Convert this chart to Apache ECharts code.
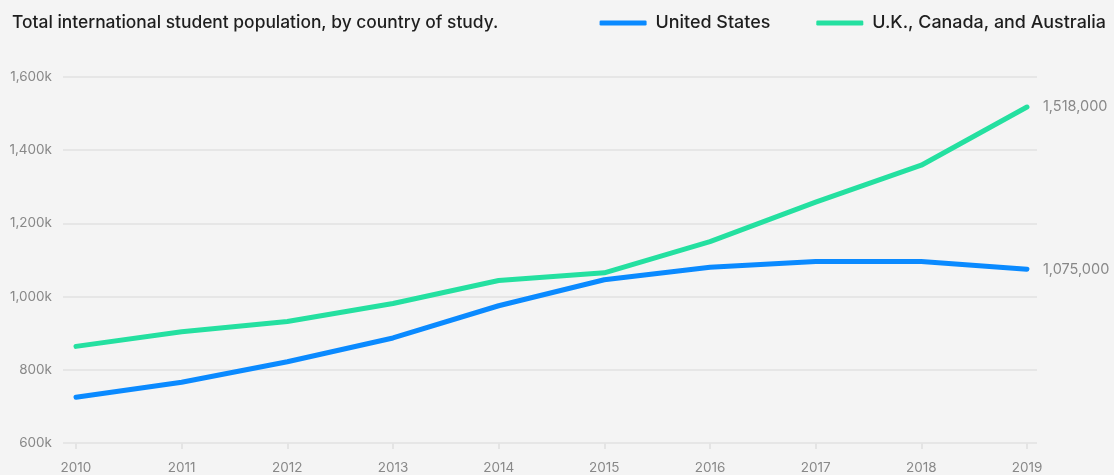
<!DOCTYPE html>
<html><head><meta charset="utf-8">
<script src="https://cdn.jsdelivr.net/npm/echarts@6/dist/echarts.min.js"></script>
<style>html,body{margin:0;padding:0;background:#f4f4f4;}#c{width:1114px;height:475px;}</style>
</head><body><div id="c"></div>
<script>
const years = [2010, 2011, 2012, 2013, 2014, 2015, 2016, 2017, 2018, 2019];
const unitedStates = [725000, 766000, 822000, 887000, 975000, 1046000, 1080000, 1096000, 1096000, 1075000];
const ukCanadaAustralia = [864000, 904000, 932000, 981000, 1044000, 1065000, 1150000, 1258000, 1359000, 1518000];
const yTicks = [600000, 800000, 1000000, 1200000, 1400000, 1600000];
const seriesNames = ['United States', 'U.K., Canada, and Australia'];
const colors = ['#0a8aff', '#24e0a0'];

const chart = echarts.init(document.getElementById('c'));
const fmtK = v => (v / 1000).toLocaleString('en-US') + 'k';
const pair = arr => arr.map((v, i) => [years[i], v]);

chart.setOption({
  backgroundColor: '#f4f4f4',
  animation: false,
  textStyle: { fontFamily: 'Inter, Roboto, sans-serif' },
  title: {
    text: 'Total international student population, by country of study.',
    left: 7, top: 9,
    textStyle: { fontSize: 17.4, fontWeight: 500, color: '#1e1e1e', fontFamily: 'Inter, sans-serif' }
  },
  legend: {
    right: 3, top: 9,
    itemWidth: 47, itemHeight: 5, itemGap: 46,
    icon: 'roundRect',
    textStyle: { fontSize: 17.9, fontWeight: 500, color: '#1e1e1e', fontFamily: 'Inter, sans-serif', padding: [0, 0, 0, 4] },
    data: seriesNames.map((n, i) => ({ name: n, itemStyle: { color: colors[i] } }))
  },
  grid: { left: 63, right: 77, top: 77, bottom: 32, containLabel: false },
  xAxis: {
    type: 'value',
    min: 2009.877, max: 2019.095,
    axisLine: { show: false },
    splitLine: { show: false },
    axisTick: { show: true, customValues: years, length: 6, lineStyle: { color: '#e4e4e4', width: 2 } },
    axisLabel: { customValues: years, formatter: v => String(v), color: '#888', fontSize: 13.5, margin: 18 }
  },
  yAxis: {
    type: 'value',
    min: 600000, max: 1600000, interval: 200000,
    axisLine: { show: false },
    axisTick: { show: false },
    splitLine: { lineStyle: { color: '#e6e6e6', width: 2 } },
    axisLabel: { formatter: fmtK, color: '#888', fontSize: 13.5, margin: 11 }
  },
  series: [unitedStates, ukCanadaAustralia].map((arr, i) => ({
    name: seriesNames[i],
    type: 'line',
    data: pair(arr),
    smooth: false,
    symbol: 'none',
    lineStyle: { color: colors[i], width: 5, cap: 'round', join: 'round' },
    itemStyle: { color: colors[i] },
    endLabel: {
      show: true,
      formatter: p => p.value[1].toLocaleString('en-US'),
      color: '#888', fontSize: 14.5, distance: 16
    }
  }))
});
</script></body></html>
